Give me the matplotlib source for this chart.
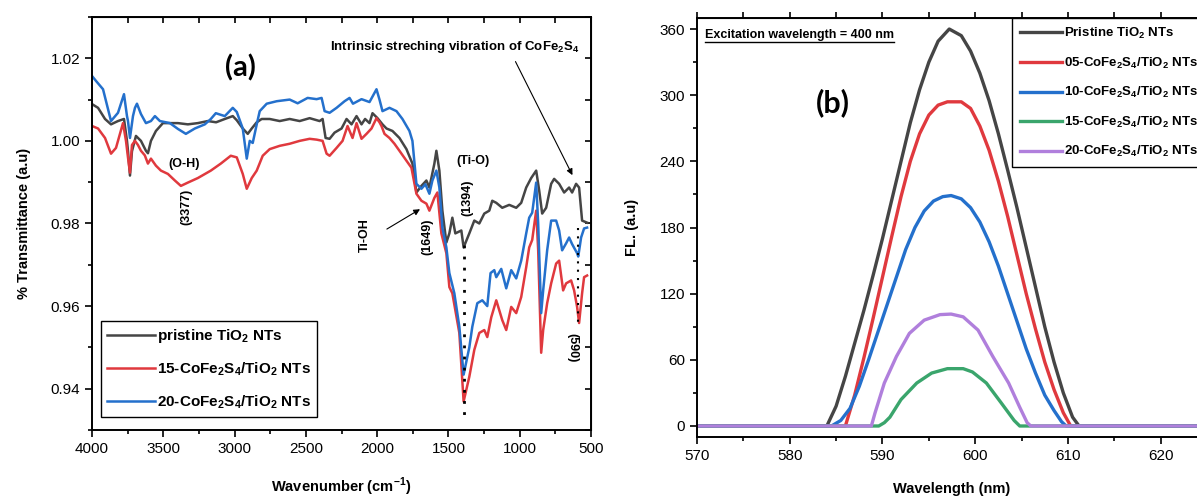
import numpy as np
import matplotlib.pyplot as plt
from matplotlib.ticker import MultipleLocator, FormatStrFormatter, NullFormatter
from matplotlib.lines import Line2D
from matplotlib.transforms import IdentityTransform

plt.rcParams['font.family'] = 'Liberation Sans'
plt.rcParams['mathtext.fontset'] = 'custom'
plt.rcParams['mathtext.rm'] = 'Liberation Sans'
plt.rcParams['mathtext.bf'] = 'Liberation Sans:bold'

# ---- FTIR spectra (wavenumber cm-1, transmittance) ----
wn_pristine = [4000, 3958, 3909, 3867, 3818, 3776, 3755, 3748, 3734, 3720, 3692, 3657, 3622, 3608,
               3587, 3552, 3503, 3454, 3398, 3328, 3258, 3188, 3130, 3069, 3013, 2985, 2943, 2908,
               2880, 2845, 2810, 2754, 2684, 2614, 2544, 2474, 2404, 2383, 2362, 2334, 2299, 2250,
               2215, 2180, 2145, 2110, 2085, 2054, 2033, 1998, 1963, 1935, 1893, 1844, 1795, 1753,
               1725, 1690, 1655, 1634, 1599, 1585, 1564, 1543, 1515, 1494, 1473, 1452, 1410, 1394,
               1354, 1319, 1284, 1249, 1214, 1193, 1165, 1123, 1074, 1025, 990, 955, 920, 885, 864,
               843, 815, 780, 759, 724, 689, 654, 633, 605, 584, 563, 528]
t_pristine = [1.0089, 1.0080, 1.0053, 1.0040, 1.0048, 1.0053, 1.0000, 0.9976, 0.9916, 0.9975, 1.0012,
              1.0000, 0.9976, 0.9970, 1.0000, 1.0024, 1.0043, 1.0043, 1.0043, 1.0040, 1.0043, 1.0048,
              1.0045, 1.0053, 1.0060, 1.0050, 1.0030, 1.0017, 1.0030, 1.0045, 1.0053, 1.0053, 1.0048,
              1.0053, 1.0048, 1.0055, 1.0048, 1.0053, 1.0007, 1.0005, 1.0020, 1.0030, 1.0053, 1.0040,
              1.0060, 1.0040, 1.0053, 1.0043, 1.0067, 1.0055, 1.0040, 1.0030, 1.0024, 1.0007, 0.9980,
              0.9945, 0.9875, 0.9891, 0.9904, 0.9887, 0.9945, 0.9976, 0.9928, 0.9831, 0.9754, 0.9776,
              0.9814, 0.9776, 0.9783, 0.9742, 0.9776, 0.9807, 0.9800, 0.9824, 0.9831, 0.9855, 0.9850,
              0.9838, 0.9845, 0.9838, 0.9850, 0.9887, 0.9910, 0.9928, 0.9880, 0.9824, 0.9838, 0.9896,
              0.9908, 0.9896, 0.9875, 0.9887, 0.9875, 0.9896, 0.9887, 0.9807, 0.9802]

wn_15 = [4000, 3958, 3909, 3867, 3832, 3783, 3762, 3748, 3734, 3720, 3699, 3678, 3657, 3630, 3608,
         3587, 3552, 3517, 3468, 3419, 3377, 3328, 3258, 3167, 3097, 3027, 2985, 2943, 2915, 2880,
         2845, 2803, 2754, 2684, 2614, 2544, 2474, 2425, 2383, 2355, 2334, 2285, 2243, 2208, 2173,
         2145, 2110, 2075, 2040, 2005, 1984, 1970, 1949, 1914, 1879, 1844, 1795, 1760, 1725, 1690,
         1655, 1634, 1599, 1578, 1550, 1515, 1494, 1473, 1424, 1394, 1354, 1319, 1284, 1249, 1228,
         1200, 1165, 1123, 1095, 1060, 1025, 990, 955, 934, 913, 885, 871, 850, 836, 808, 780, 745,
         724, 696, 675, 640, 619, 598, 584, 563, 549, 528]
t_15 = [1.0036, 1.0030, 1.0007, 0.9969, 0.9983, 1.0043, 1.0000, 0.9960, 0.9923, 0.9990, 1.0000,
        0.9990, 0.9976, 0.9965, 0.9945, 0.9957, 0.9940, 0.9928, 0.9920, 0.9904, 0.9891, 0.9899,
        0.9910, 0.9928, 0.9945, 0.9964, 0.9960, 0.9920, 0.9884, 0.9910, 0.9928, 0.9964, 0.9980,
        0.9988, 0.9993, 1.0000, 1.0005, 1.0003, 1.0000, 0.9969, 0.9964, 0.9983, 1.0000, 1.0036,
        1.0007, 1.0043, 1.0005, 1.0017, 1.0030, 1.0055, 1.0045, 1.0036, 1.0017, 1.0007, 0.9993,
        0.9976, 0.9952, 0.9935, 0.9872, 0.9855, 0.9848, 0.9831, 0.9862, 0.9875, 0.9776, 0.9728,
        0.9646, 0.9631, 0.9535, 0.9369, 0.9429, 0.9494, 0.9535, 0.9542, 0.9525, 0.9573, 0.9614,
        0.9566, 0.9542, 0.9598, 0.9583, 0.9622, 0.9694, 0.9742, 0.9760, 0.9831, 0.9735, 0.9487,
        0.9542, 0.9607, 0.9655, 0.9703, 0.9710, 0.9638, 0.9655, 0.9662, 0.9638, 0.9598, 0.9559,
        0.9631, 0.9670, 0.9674]

wn_20 = [4000, 3972, 3923, 3867, 3818, 3776, 3755, 3748, 3734, 3713, 3699, 3685, 3657, 3622, 3587,
         3559, 3524, 3454, 3398, 3342, 3279, 3209, 3167, 3132, 3069, 3013, 2985, 2943, 2915, 2894,
         2873, 2845, 2824, 2775, 2705, 2614, 2558, 2488, 2425, 2390, 2369, 2334, 2285, 2229, 2194,
         2170, 2110, 2054, 2005, 1984, 1963, 1914, 1865, 1823, 1774, 1753, 1725, 1690, 1662, 1634,
         1613, 1585, 1564, 1543, 1515, 1494, 1459, 1424, 1394, 1354, 1333, 1298, 1263, 1228, 1205,
         1179, 1165, 1130, 1095, 1060, 1025, 990, 955, 934, 913, 885, 871, 850, 836, 808, 780, 745,
         724, 703, 675, 654, 633, 598, 590, 570, 549, 528]
t_20 = [1.0157, 1.0145, 1.0125, 1.0048, 1.0068, 1.0113, 1.0060, 1.0048, 1.0007, 1.0060, 1.0080,
        1.0090, 1.0065, 1.0043, 1.0048, 1.0060, 1.0048, 1.0043, 1.0029, 1.0017, 1.0030, 1.0040,
        1.0053, 1.0067, 1.0060, 1.0080, 1.0070, 1.0030, 0.9957, 1.0000, 0.9995, 1.0040, 1.0072,
        1.0090, 1.0096, 1.0100, 1.0091, 1.0104, 1.0101, 1.0104, 1.0072, 1.0068, 1.0080, 1.0096,
        1.0104, 1.0090, 1.0101, 1.0094, 1.0125, 1.0100, 1.0072, 1.0080, 1.0072, 1.0053, 1.0024,
        1.0000, 0.9896, 0.9884, 0.9895, 0.9872, 0.9904, 0.9928, 0.9887, 0.9790, 0.9742, 0.9680,
        0.9631, 0.9550, 0.9434, 0.9500, 0.9550, 0.9607, 0.9614, 0.9600, 0.9680, 0.9687, 0.9670,
        0.9690, 0.9643, 0.9687, 0.9667, 0.9710, 0.9776, 0.9814, 0.9826, 0.9899, 0.9800, 0.9583,
        0.9638, 0.9735, 0.9807, 0.9807, 0.9783, 0.9735, 0.9752, 0.9766, 0.9750, 0.9728, 0.9720,
        0.9766, 0.9788, 0.9790]

ftir_labels = ['pristine TiO$_\\mathbf{2}$ NTs',
               '15-CoFe$_\\mathbf{2}$S$_\\mathbf{4}$/TiO$_\\mathbf{2}$ NTs',
               '20-CoFe$_\\mathbf{2}$S$_\\mathbf{4}$/TiO$_\\mathbf{2}$ NTs']

# ---- PL emission (wavelength nm, intensity) ----
wl_pristine = [570, 584.0, 585.0, 586.0, 587.0, 588.0, 589.0, 590.0, 591.0, 592.0, 593.0, 594.0, 595.0,
               596.0, 597.2, 598.5, 599.5, 600.5, 601.5, 602.5, 603.5, 604.5, 605.5, 606.5, 607.5,
               608.5, 609.5, 610.5, 611.2, 625]
fl_pristine = [0, 0, 18, 45, 75, 105, 137, 170, 205, 240, 275, 305, 330, 349, 360, 354, 340, 320, 295,
               265, 232, 198, 162, 126, 90, 58, 30, 8, 0, 0]
wl_05 = [570, 586.0, 587.0, 588.0, 589.0, 590.0, 591.0, 592.0, 593.0, 594.0, 595.0, 596.0, 597.0, 598.5,
         599.5, 600.5, 601.5, 602.5, 603.5, 604.5, 605.5, 606.5, 607.5, 608.5, 609.5, 610.3, 625]
fl_05 = [0, 0, 28, 62, 98, 135, 172, 208, 240, 265, 282, 291, 294, 294, 288, 272, 250, 222, 190, 155,
         120, 88, 58, 33, 12, 0, 0]
wl_10 = [570, 584.5, 585.5, 586.5, 587.5, 588.5, 589.5, 590.5, 591.5, 592.5, 593.5, 594.5, 595.5, 596.5,
         597.4, 598.5, 599.5, 600.5, 601.5, 602.5, 603.5, 604.5, 605.5, 606.5, 607.5, 608.5, 609.3,
         609.8, 625]
fl_10 = [0, 0, 5, 16, 36, 60, 85, 110, 135, 160, 180, 195, 204, 208, 209, 206, 198, 185, 167, 145, 120,
         95, 70, 48, 28, 14, 4, 0, 0]
wl_15 = [570, 589.6, 590.2, 590.8, 592.0, 593.7, 595.3, 597.0, 598.7, 599.7, 601.2, 602.8, 604.2, 604.8, 625]
fl_15 = [0, 0, 3, 8, 24, 39, 48, 52, 52, 49, 39, 21, 5, 0, 0]
wl_20 = [570, 588.8, 589.2, 590.2, 591.5, 592.9, 594.5, 596.2, 597.4, 598.7, 600.3, 601.9, 603.6, 604.8,
         605.6, 606.0, 625]
fl_20 = [0, 0, 12, 39, 63, 84, 96, 101, 101.5, 99, 87, 63, 39, 17, 3, 0, 0]

pl_labels = ['Pristine TiO$_\\mathbf{2}$ NTs',
             '05-CoFe$_\\mathbf{2}$S$_\\mathbf{4}$/TiO$_\\mathbf{2}$ NTs',
             '10-CoFe$_\\mathbf{2}$S$_\\mathbf{4}$/TiO$_\\mathbf{2}$ NTs',
             '15-CoFe$_\\mathbf{2}$S$_\\mathbf{4}$/TiO$_\\mathbf{2}$ NTs',
             '20-CoFe$_\\mathbf{2}$S$_\\mathbf{4}$/TiO$_\\mathbf{2}$ NTs']

c_black = '#454545'
c_red = '#e0393e'
c_blue = '#2470cc'
c_green = '#3aa56c'
c_purple = '#b07fdc'

fig = plt.figure(figsize=(11.97, 4.99), dpi=100)
ax1 = fig.add_axes([0.0769, 0.1383, 0.4169, 0.8277])
# the right-hand panel runs a little past the figure edge
ax2 = fig.add_axes([0.5823, 0.1242, 0.4261, 0.8397])

# ---------------- (a) FTIR ----------------
ax1.plot(wn_pristine, t_pristine, color=c_black, lw=1.8, label=ftir_labels[0])
ax1.plot(wn_15, t_15, color=c_red, lw=1.8, label=ftir_labels[1])
ax1.plot(wn_20, t_20, color=c_blue, lw=1.8, label=ftir_labels[2])
ax1.set_xlim(4000, 500)
ax1.set_ylim(0.93, 1.03)
ax1.xaxis.set_major_locator(MultipleLocator(500))
ax1.xaxis.set_minor_locator(MultipleLocator(250))
ax1.yaxis.set_major_locator(MultipleLocator(0.02))
ax1.yaxis.set_minor_locator(MultipleLocator(0.01))
ax1.yaxis.set_major_formatter(FormatStrFormatter('%.2f'))
ax1.tick_params(which='both', direction='out', labelsize=11, width=1.2)
ax1.tick_params(which='major', length=5)
ax1.tick_params(which='minor', length=3)
for s in ax1.spines.values():
    s.set_linewidth(1.4)
top1 = ax1.secondary_xaxis('top')
top1.xaxis.set_major_locator(MultipleLocator(250))
top1.xaxis.set_major_formatter(NullFormatter())
top1.tick_params(direction='in', length=4, width=1.2)
right1 = ax1.secondary_yaxis('right')
right1.yaxis.set_major_locator(MultipleLocator(0.01))
right1.yaxis.set_major_formatter(NullFormatter())
right1.tick_params(direction='in', length=4, width=1.2)

ax1.set_xlabel('Wavenumber (cm$^{\\mathbf{-1}}$)', fontsize=10.5, fontweight='bold', labelpad=14)
ax1.set_ylabel('% Transmittance (a.u)', fontsize=10.5, fontweight='bold', labelpad=14)

ax1.legend(loc='lower left', bbox_to_anchor=(0.018, 0.031), borderaxespad=0, fancybox=False,
           edgecolor='black', framealpha=1, prop={'weight': 'bold', 'size': 11},
           handlelength=3.1, handletextpad=0.15, borderpad=0.4, labelspacing=1.0)

ax1.text(0.297, 0.877, '(a)', transform=ax1.transAxes, fontsize=21, fontweight='bold',
         family='Lato', ha='center', va='center')
ax1.text(0.727, 0.927, 'Intrinsic streching vibration of CoFe$_\\mathbf{2}$S$_\\mathbf{4}$',
         transform=ax1.transAxes, fontsize=9.5, fontweight='bold', ha='center', va='center')
ax1.annotate('', xy=(622, 0.9911), xytext=(1039, 1.0198),
             arrowprops=dict(arrowstyle='-|>', color='black', lw=0.8, mutation_scale=9))
ax1.annotate('', xy=(1683, 0.9838), xytext=(1949, 0.9783),
             arrowprops=dict(arrowstyle='-|>', color='black', lw=0.8, mutation_scale=9))
ax1.text(3356, 0.9945, '(O-H)', fontsize=9, fontweight='bold', ha='center', va='center')
ax1.text(3335, 0.9839, '(3377)', fontsize=9, fontweight='bold', ha='center', va='center', rotation=90)
ax1.text(2089, 0.9771, 'Ti-OH', fontsize=9, fontweight='bold', ha='center', va='center', rotation=90)
ax1.text(1648, 0.9769, '(1649)', fontsize=9, fontweight='bold', ha='center', va='center', rotation=90)
ax1.text(1326, 0.9952, '(Ti-O)', fontsize=9, fontweight='bold', ha='center', va='center')
ax1.text(1368, 0.9863, '(1394)', fontsize=9, fontweight='bold', ha='center', va='center', rotation=90)
ax1.text(633, 0.950, '(590)', fontsize=9, fontweight='bold', ha='center', va='center', rotation=270)
ax1.plot([1394, 1394], [0.9747, 0.9337], color='black', lw=2, ls=(0, (1, 3)))
ax1.plot([590, 590], [0.979, 0.955], color='black', lw=1.5, ls=(0, (1, 3)))

# ---------------- (b) PL ----------------
ax2.plot(wl_pristine, fl_pristine, color=c_black, lw=2.4, label=pl_labels[0])
ax2.plot(wl_05, fl_05, color=c_red, lw=2.4, label=pl_labels[1])
ax2.plot(wl_10, fl_10, color=c_blue, lw=2.4, label=pl_labels[2])
ax2.plot(wl_15, fl_15, color=c_green, lw=2.4, label=pl_labels[3])
ax2.plot(wl_20, fl_20, color=c_purple, lw=2.4, label=pl_labels[4])
ax2.set_xlim(570, 625)
ax2.set_ylim(-10, 370)
ax2.xaxis.set_major_locator(MultipleLocator(10))
ax2.xaxis.set_minor_locator(MultipleLocator(5))
ax2.yaxis.set_major_locator(MultipleLocator(60))
ax2.yaxis.set_minor_locator(MultipleLocator(30))
ax2.tick_params(which='both', direction='out', labelsize=11, width=1.2)
ax2.tick_params(which='major', length=5)
ax2.tick_params(which='minor', length=3)
for s in ax2.spines.values():
    s.set_linewidth(1.4)
top2 = ax2.secondary_xaxis('top')
top2.xaxis.set_major_locator(MultipleLocator(5))
top2.xaxis.set_major_formatter(NullFormatter())
top2.tick_params(direction='out', length=4, width=1.2)

ax2.set_xlabel('Wavelength (nm)', fontsize=10.5, fontweight='bold', labelpad=14)
ax2.set_ylabel('FL. (a.u)', fontsize=10.5, fontweight='bold', labelpad=15)

ax2.legend(loc='upper left', bbox_to_anchor=(0.6176, 1.0), borderaxespad=0, fancybox=False,
           edgecolor='black', framealpha=1, prop={'weight': 'bold', 'size': 9.5},
           handlelength=3.2, handletextpad=0.15, borderpad=0.6, labelspacing=1.1)

ax2.text(0.266, 0.797, '(b)', transform=ax2.transAxes, fontsize=22, fontweight='bold',
         family='Lato', ha='center', va='center')
exc = ax2.text(0.0157, 0.959, 'Excitation wavelength = 400 nm', transform=ax2.transAxes,
               fontsize=9, fontweight='bold', ha='left', va='center')

# underline the excitation note
fig.canvas.draw()
bb = exc.get_window_extent(fig.canvas.get_renderer())
fig.add_artist(Line2D([bb.x0, bb.x1], [bb.y0 - 1, bb.y0 - 1], transform=IdentityTransform(),
                      color='black', lw=1))

fig.savefig('out.png', dpi=100)
